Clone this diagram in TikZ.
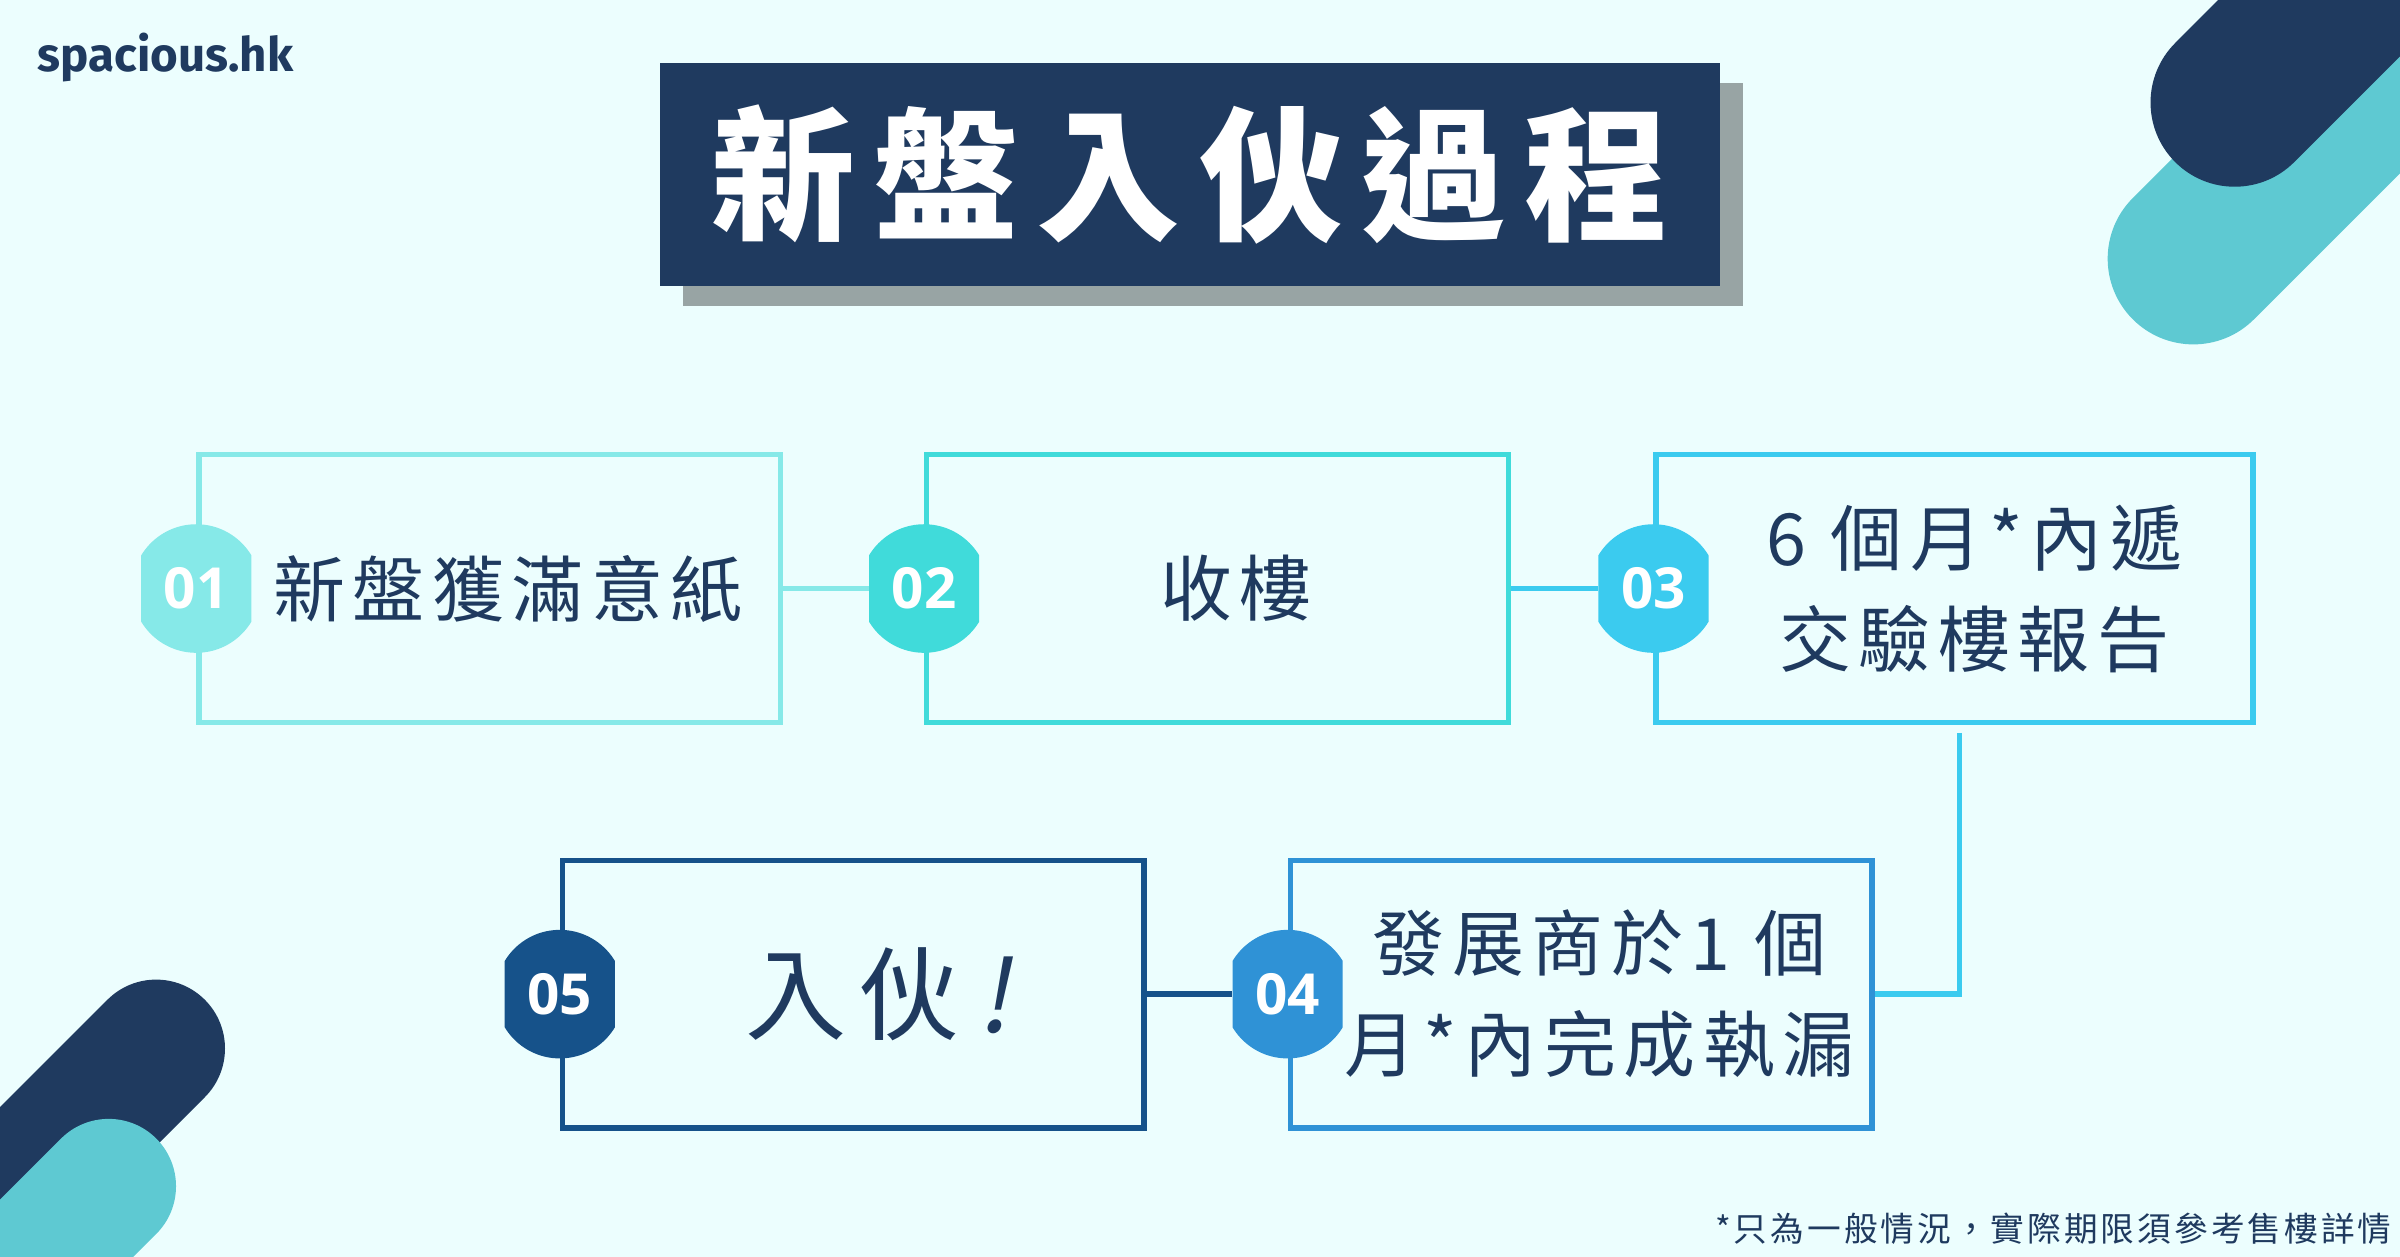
\documentclass[tikz,border=0pt]{standalone}
\usepackage{fontspec}
\usetikzlibrary{shadows}
\newfontfamily\cjk{Noto Sans CJK TC}
\newfontfamily\cjktitle{Noto Sans CJK TC}[LetterSpace=13]
\newfontfamily\cjkbox{Noto Sans CJK TC}[LetterSpace=10.5]
\newfontfamily\cjkbig{Noto Sans CJK TC}[LetterSpace=12]
\newfontfamily\cjkslant{Noto Sans CJK TC}[FakeSlant=0.2]
\newfontfamily\cjknote{Noto Sans CJK TC}[LetterSpace=9]
\newfontfamily\numfont{Open Sans}
\newfontfamily\logofont{Fira Sans}

\definecolor{bgcol}{HTML}{ECFEFE}
\definecolor{navy}{HTML}{1F3A5F}
\definecolor{shadowgray}{HTML}{98A4A4}
\definecolor{stepA}{HTML}{86E9E8}
\definecolor{stepB}{HTML}{40DBDA}
\definecolor{stepC}{HTML}{3BCBEF}
\definecolor{stepD}{HTML}{2F92D6}
\definecolor{stepE}{HTML}{16528A}
\definecolor{decoteal}{HTML}{5EC9D2}

\begin{document}
\begin{tikzpicture}[
    x=1pt, y=-1pt,
    titlebox/.style={fill=navy, minimum width=693, minimum height=146, inner sep=0pt, text=white,
        font=\cjktitle\bfseries\fontsize{94}{94}\selectfont,
        drop shadow={shadow xshift=15pt, shadow yshift=-13pt, fill=shadowgray, opacity=1}},
    stepbox/.style={draw=#1, line width=3.5pt, minimum width=380, minimum height=175, inner sep=0pt},
    badge/.style={rectangle, minimum width=72, minimum height=84, inner sep=0pt, text=white,
        path picture={\fill[#1] (path picture bounding box.center) circle (42pt);},
        font=\numfont\bfseries\fontsize{37}{37}\selectfont},
    steptext/.style={text=navy, align=center, font=\cjkbox\fontsize{47}{66}\selectfont},
    link/.style={draw=#1, line width=3.5pt},
    deco/.style={line cap=round, line width=#1},
    logo/.style={text=navy, font=\logofont\bfseries\fontsize{31}{31}\selectfont},
    note/.style={text=navy, font=\cjknote\fontsize{22}{22}\selectfont},
]
    \useasboundingbox (0,0) rectangle (1568,821);
    \fill[bgcol] (0,0) rectangle (1568,821);

    % ============= corner decorations =============
    \begin{scope}
        \clip (0,0) rectangle (1568,821);
        \draw[deco=112pt, decoteal] (1433,169) -- ++(300,-300);
        \draw[deco=110pt, navy] (1460,67) -- ++(300,-300);
        \draw[deco=90pt, navy] (102,685) -- ++(-300,300);
        \draw[deco=88pt, decoteal] (71,775) -- ++(-300,300);
    \end{scope}

    % ============= header =============
    \node[logo, anchor=base west] (logo) at (21,47) {spacious.hk};
    \node[titlebox] (title) at (777.5,114) {新盤入伙過程};

    % ============= first row =============
    \node[stepbox=stepA] (s1) at (320,384.5) {};
    \node[stepbox=stepB] (s2) at (795.5,384.5) {};
    \node[stepbox=stepC, minimum width=390] (s3) at (1277,384.5) {};
    \node[steptext] (t1) at ([xshift=12pt]s1.center) {新盤獲滿意紙};
    \node[steptext] (t2) at ([xshift=12pt]s2.center) {收樓};
    \node[steptext] (t3) at ([xshift=13pt]s3.center) {6 個月*內遞\\交驗樓報告};

    % ============= second row =============
    \node[stepbox=stepE] (s5) at (557.5,649.5) {};
    \node[stepbox=stepD] (s4) at (1033,649.5) {};
    \node[steptext] (t4) at ([xshift=12pt]s4.center) {發展商於1 個\\月*內完成執漏};
    \node[steptext, font=\cjkbig\fontsize{66}{66}\selectfont] (t5) at ([xshift=16pt]s5.center) {入伙\hspace{12pt}{\cjkslant !}};

    % ============= connectors =============
    \node[badge=stepA] (b1) at (s1.west) {01};
    \node[badge=stepB] (b2) at (s2.west) {02};
    \node[badge=stepC] (b3) at (s3.west) {03};
    \node[badge=stepD] (b4) at (s4.west) {04};
    \node[badge=stepE] (b5) at (s5.west) {05};
    \draw[link=stepA] (s1.east) -- (b2.west);
    \draw[link=stepC] (s2.east) -- (b3.west);
    \draw[link=stepC] ([xshift=3pt, yshift=-5pt]s3.south) |- (s4.east);
    \draw[link=stepE] (s5.east) -- (b4.west);

    % footnote
    \node[note, anchor=east] (note) at (1566,803) {*只為一般情況，實際期限須參考售樓詳情};
\end{tikzpicture}
\end{document}
